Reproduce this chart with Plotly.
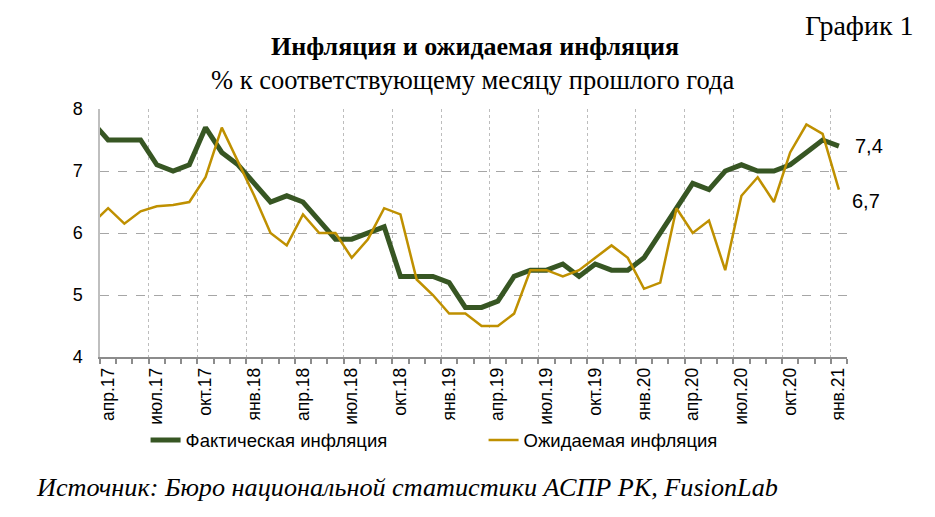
import numpy as np
import plotly.graph_objects as go

# monthly values, mar.17 .. jan.21 (mar.17 sits left of the axis and is clipped)
actual = [7.8,
          7.5, 7.5, 7.5, 7.1, 7.0, 7.1, 7.7, 7.3, 7.1,
          6.8, 6.5, 6.6, 6.5, 6.2, 5.9, 5.9, 6.0, 6.1, 5.3, 5.3, 5.3,
          5.2, 4.8, 4.8, 4.9, 5.3, 5.4, 5.4, 5.5, 5.3, 5.5, 5.4, 5.4,
          5.6, 6.0, 6.4, 6.8, 6.7, 7.0, 7.1, 7.0, 7.0, 7.1, 7.3, 7.5,
          7.4]
expected = [6.15,
            6.4, 6.15, 6.35, 6.43, 6.45, 6.5, 6.9, 7.7, 7.15,
            6.6, 6.0, 5.8, 6.3, 6.0, 6.0, 5.6, 5.9, 6.4, 6.3, 5.25, 5.0,
            4.7, 4.7, 4.5, 4.5, 4.7, 5.4, 5.4, 5.3, 5.4, 5.6, 5.8, 5.6,
            5.1, 5.2, 6.4, 6.0, 6.2, 5.4, 6.6, 6.9, 6.5, 7.3, 7.75, 7.6,
            6.7]
tick_labels = ["апр.17", "июл.17", "окт.17", "янв.18", "апр.18", "июл.18",
               "окт.18", "янв.19", "апр.19", "июл.19", "окт.19", "янв.20",
               "апр.20", "июл.20", "окт.20", "янв.21"]

GREEN = "#375623"
GOLD = "#BF9000"
SANS = "Liberation Sans"
SERIF = "Liberation Serif"

# category centres: month k (apr.17 = 0) sits at k + 0.5, first value is mar.17
x = np.arange(len(actual)) - 1 + 0.5
n_months = len(actual) - 1

fig = go.Figure()
fig.add_trace(go.Scatter(x=x, y=actual, mode="lines", name="Фактическая инфляция",
                         line=dict(color=GREEN, width=5)))
fig.add_trace(go.Scatter(x=x, y=expected, mode="lines", name="Ожидаемая инфляция",
                         line=dict(color=GOLD, width=2.5)))

# end labels
for vals, xs, ys in [(actual, 14, 0), (expected, 11, -11)]:
    fig.add_annotation(x=x[-1], y=vals[-1], text=f"{vals[-1]:.1f}".replace(".", ","),
                       showarrow=False, xanchor="left", xshift=xs, yshift=ys,
                       font=dict(family=SANS, size=20, color="black"))

fig.update_xaxes(
    range=[0, n_months],
    tickmode="array",
    tickvals=list(range(0, n_months, 3)),
    ticktext=tick_labels,
    tickangle=-90,
    ticks="",
    ticklabelshift=8,
    ticklabelstandoff=2,
    tickfont=dict(family=SANS, size=17.5, color="black"),
    showgrid=True, gridcolor="#bdbdbd", griddash="dot", gridwidth=1,
    showline=True, linecolor="#8c8c8c", linewidth=1.5,
    zeroline=False, automargin=False,
    minor=dict(tickmode="array", tickvals=list(range(0, n_months + 1)),
               ticks="outside", ticklen=5, tickcolor="#8c8c8c", tickwidth=1.5,
               showgrid=False),
)
fig.update_yaxes(
    range=[4, 8], dtick=1,
    ticks="", ticklabelstandoff=12,
    tickfont=dict(family=SANS, size=18, color="black"),
    showgrid=True, gridcolor="#a6a6a6", griddash="dash", gridwidth=1,
    showline=True, linecolor="#bfbfbf", linewidth=1.5,
    zeroline=False, automargin=False,
)

fig.add_annotation(text="График 1", xref="paper", yref="paper", x=1.091, y=1.405,
                   xanchor="right", yanchor="top", showarrow=False, borderpad=0,
                   font=dict(family=SERIF, size=28, color="black"))
fig.add_annotation(text="<b>Инфляция и ожидаемая инфляция</b>", xref="paper", yref="paper",
                   x=0.502, y=1.252, xanchor="center", yanchor="middle", showarrow=False,
                   font=dict(family=SERIF, size=26, color="black"))
fig.add_annotation(text="% к соответствующему месяцу прошлого года", xref="paper", yref="paper",
                   x=0.499, y=1.118, xanchor="center", yanchor="middle", showarrow=False,
                   font=dict(family=SERIF, size=26.5, color="black"))
fig.add_annotation(text="<i>Источник: Бюро национальной статистики АСПР РК, FusionLab</i>",
                   xref="paper", yref="paper", x=-0.088, y=-0.527,
                   xanchor="left", yanchor="middle", showarrow=False,
                   font=dict(family=SERIF, size=26.2, color="black"))

# the page adds an 8px body margin, so the figure is 8px smaller and shifted
fig.update_layout(
    width=927, height=509,
    margin=dict(l=92, r=88, t=101, b=160, autoexpand=False),
    paper_bgcolor="white", plot_bgcolor="white",
    showlegend=True,
    legend=dict(orientation="h", x=0.061, y=-0.337, xanchor="left", yanchor="middle",
                font=dict(family=SANS, size=18.5, color="black"),
                entrywidth=293, entrywidthmode="pixels",
                bgcolor="rgba(0,0,0,0)"),
)

fig.write_html("out.html")
